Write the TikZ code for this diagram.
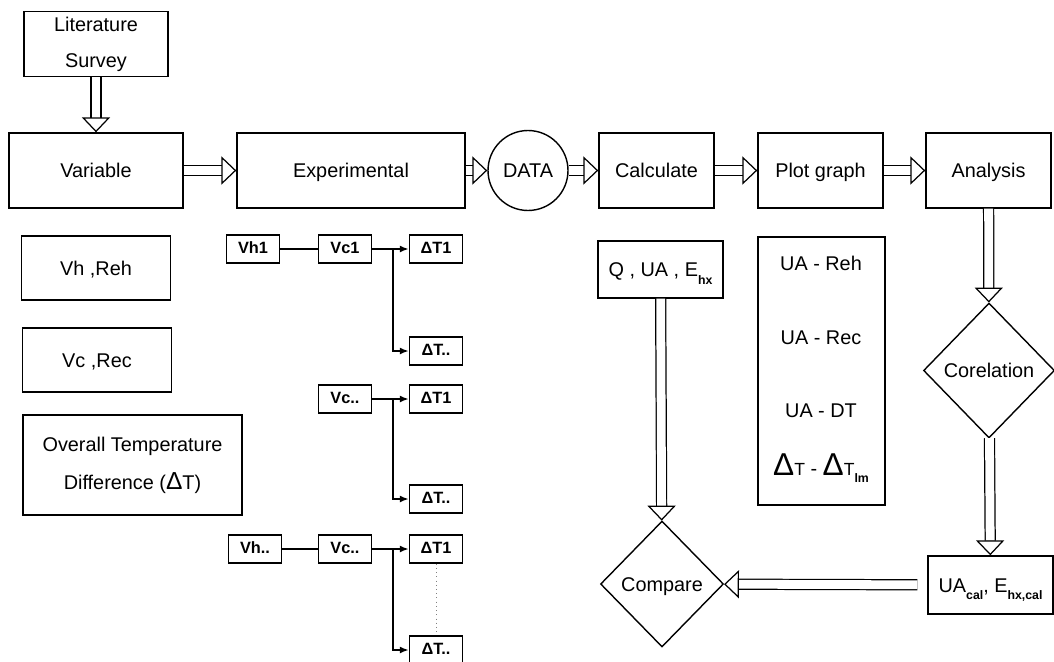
\documentclass[tikz,border=0pt]{standalone}
\usepackage{fontspec}
\setmainfont{Liberation Sans}
\usetikzlibrary{arrows.meta,shapes.geometric}
\newcommand{\lowsub}[1]{\raisebox{-0.7ex}{\fontsize{7}{7}\selectfont\bfseries #1}}
\newcommand{\bigdelta}{{\fontsize{18}{18}\selectfont Δ}}

\begin{document}
\begin{tikzpicture}[x=0.02cm,y=-0.02cm,
        every node/.style={font=\fontsize{11.3}{20.5}\selectfont},
        strutted/.style={execute at begin node=\strut,execute at end node=\strut},
        box/.style={draw,thick,align=center,inner sep=0pt,strutted},
        twoline/.style={draw,thick,align=center,inner sep=0pt,execute at begin node={\rule{0pt}{19pt}}},
        smallbox/.style={draw,thick,inner sep=0pt,minimum width=1.07cm,minimum height=0.56cm,font=\fontsize{9.3}{13}\selectfont\bfseries,strutted},
        decide/.style={draw,thick,diamond,inner sep=0pt,strutted},
        hollow/.style={double,double distance=5pt,line width=0.7pt,-{Triangle[open,length=8.5pt,width=16pt]}},
        branch/.style={thick,-{Latex[length=5pt,width=4pt]}}]

    \useasboundingbox (0,0) rectangle (1054,662);

    \node[twoline,minimum width=2.88cm,minimum height=1.3cm] (lit) at (96,44) {Literature\\Survey};
    \node[box,minimum width=3.48cm,minimum height=1.5cm] (var) at (96,170.5) {Variable};
    \node[box,minimum width=4.56cm,minimum height=1.5cm] (exp) at (351,170.5) {Experimental};
    \node[draw,thick,circle,minimum size=1.6cm,inner sep=0pt,strutted] (data) at (528,170.5) {DATA};
    \node[box,minimum width=2.3cm,minimum height=1.5cm] (calc) at (656.5,170.5) {Calculate};
    \node[box,minimum width=2.5cm,minimum height=1.5cm] (plot) at (820.5,170.5) {Plot graph};
    \node[box,minimum width=2.5cm,minimum height=1.5cm] (ana) at (988.5,170.5) {Analysis};

    \draw[hollow] (lit) -- (var);
    \draw[hollow] (var) -- (exp);
    \draw[hollow] (exp) -- (data);
    \draw[hollow] (data) -- (calc);
    \draw[hollow] (calc) -- (plot);
    \draw[hollow] (plot) -- (ana);

    \node[box,minimum width=2.98cm,minimum height=1.28cm] (vhreh) at (96,268) {Vh ,Reh};
    \node[box,minimum width=2.98cm,minimum height=1.28cm] (vcrec) at (97,360) {Vc ,Rec};
    \node[twoline,minimum width=4.38cm,minimum height=2cm,font=\fontsize{11.3}{21.5}\selectfont] (otd) at (132.5,465) {Overall Temperature\\Difference ({\fontsize{14}{14}\selectfont Δ}T)};

    \node[smallbox] (vh1) at (253,249) {Vh1};
    \node[smallbox] (vh3) at (255,549) {Vh..};
    \foreach \i/\lab/\ya/\yb in {1/Vc1/249/351, 2/Vc../399/499, 3/Vc../549/650}{
        \node[smallbox] (vc\i) at (345,\ya) {\lab};
        \node[smallbox] (dta\i) at (436,\ya) {ΔT1};
        \node[smallbox] (dtb\i) at (436,\yb) {ΔT..};
        \coordinate (br\i) at (393,\ya);
        \draw[thick] (vc\i) -- (br\i);
        \draw[branch] (br\i) -- (dta\i);
        \draw[branch] (br\i) |- (dtb\i);
    }
    \draw[thick] (vh1) -- (vc1);
    \draw[thick] (vh3) -- (vc3);
    \draw[dotted,gray] (dta3) -- (dtb3);

    \node[box,minimum width=2.5cm,minimum height=1.14cm] (qua) at (660.5,269.5) {Q , UA , E\lowsub{hx}};
    \node[draw,thick,minimum width=2.54cm,minimum height=5.36cm] (plist) at (821.5,371) {};
    \node[strutted] (p1) at (821,263) {UA - Reh};
    \node[strutted] (p2) at (821,337) {UA - Rec};
    \node[strutted] (p3) at (821,410) {UA - DT};
    \node[strutted] (p4) at (821,468) {\bigdelta{\fontsize{10}{10}\selectfont T} - \bigdelta{\fontsize{10}{10}\selectfont T}\lowsub{lm}};

    \node[decide,minimum width=2.62cm,minimum height=2.7cm] (cor) at (989,370.5) {Corelation};
    \node[box,minimum width=2.5cm,minimum height=1.16cm] (ucal) at (990.5,585) {UA\lowsub{cal}, E\lowsub{hx,cal}};
    \node[decide,minimum width=2.46cm,minimum height=2.52cm] (cmp) at (662,584) {Compare};

    \draw[hollow] (ana) -- (cor);
    \draw[hollow] (cor) -- (ucal);
    \draw[hollow] (qua) -- (cmp);
    \draw[hollow,shorten <=0.2cm] (ucal) -- (cmp);
\end{tikzpicture}
\end{document}
